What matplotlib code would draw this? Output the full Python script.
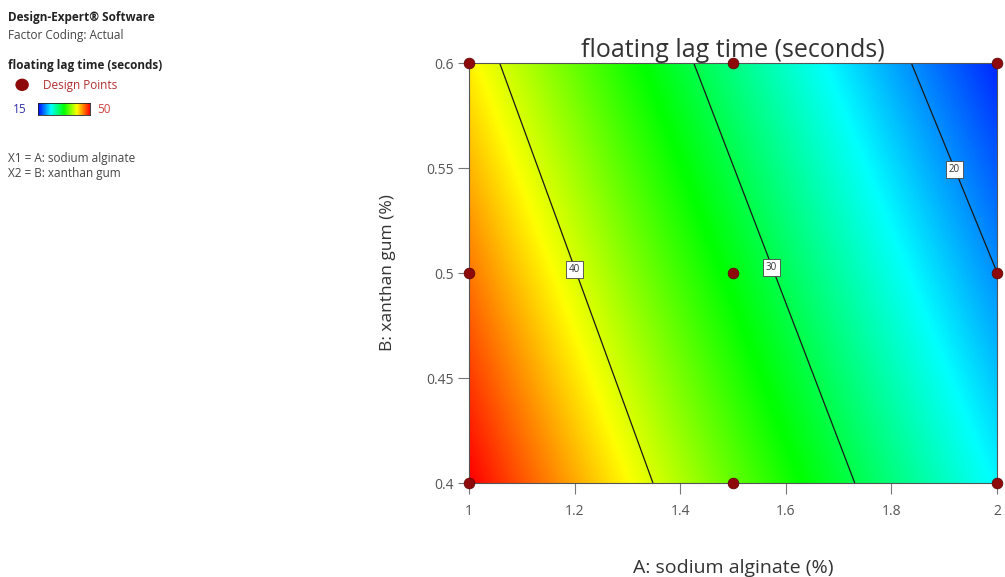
import numpy as np
import matplotlib
matplotlib.use("Agg")
import matplotlib.pyplot as plt
from matplotlib.colors import LinearSegmentedColormap
from matplotlib.patches import Ellipse

plt.rcParams['font.family'] = ['Open Sans', 'DejaVu Sans']

# ---- data -------------------------------------------------------------
title = "floating lag time (seconds)"
x_label = "A: sodium alginate (%)"
y_label = "B: xanthan gum (%)"

# factor ranges (actual units)
A_low, A_high = 1.0, 2.0
B_low, B_high = 0.4, 0.6

# 3x3 design points
design_A = [1.0, 1.5, 2.0, 1.0, 1.5, 2.0, 1.0, 1.5, 2.0]
design_B = [0.6, 0.6, 0.6, 0.5, 0.5, 0.5, 0.4, 0.4, 0.4]

# quadratic model in coded factors: intercept, A, B, AB, A^2, B^2
model_terms = ["Intercept", "A", "B", "AB", "A^2", "B^2"]
model_coefs = [32.0, -12.93, -3.9, 0.3, 0.94, 0.0]

contour_levels = [20, 30, 40]
color_range = [15, 50]

x_ticks = [1, 1.2, 1.4, 1.6, 1.8, 2]
x_tick_labels = ["1", "1.2", "1.4", "1.6", "1.8", "2"]
y_ticks = [0.4, 0.45, 0.5, 0.55, 0.6]
y_tick_labels = ["0.4", "0.45", "0.5", "0.55", "0.6"]

# ---- response surface -------------------------------------------------
def predict(a, b):
    x1 = (a - (A_low + A_high) / 2) / ((A_high - A_low) / 2)
    x2 = (b - (B_low + B_high) / 2) / ((B_high - B_low) / 2)
    c = model_coefs
    return c[0] + c[1] * x1 + c[2] * x2 + c[3] * x1 * x2 + c[4] * x1 ** 2 + c[5] * x2 ** 2

ga = np.linspace(A_low, A_high, 400)
gb = np.linspace(B_low, B_high, 400)
GA, GB = np.meshgrid(ga, gb)
Z = predict(GA, GB)

rainbow = LinearSegmentedColormap.from_list(
    "de_rainbow",
    [(0.00, (0.0, 0.0, 1.0)),
     (0.25, (0.0, 1.0, 1.0)),
     (0.50, (0.0, 1.0, 0.0)),
     (0.75, (1.0, 1.0, 0.0)),
     (1.00, (1.0, 0.0, 0.0))])

# ---- figure -----------------------------------------------------------
fig = plt.figure(figsize=(10.05, 5.77), dpi=100)
ax = fig.add_axes([0.4667, 0.1629, 0.5254, 0.7279])

ax.pcolormesh(GA, GB, Z, cmap=rainbow, vmin=color_range[0], vmax=color_range[1],
              shading="gouraud", rasterized=True)
cs = ax.contour(GA, GB, Z, levels=contour_levels, colors="#1a1a1a", linewidths=0.9)
label_spots = [(1.917, 0.550), (1.589, 0.505), (1.197, 0.502)]
labels = ax.clabel(cs, fmt="%d", manual=label_spots, inline=False, fontsize=7,
                   colors="#333333")
for t in labels:
    t.set_rotation(0)
    t.set_verticalalignment("center_baseline")
    t.set_bbox(dict(boxstyle="square,pad=0.3", fc="white", ec="#444444", lw=0.6))

ax.scatter(design_A, design_B, s=60, color="#8e0a0a", edgecolors="#5a0000",
           linewidths=0.5, zorder=5, clip_on=False)

ax.set_xlim(A_low, A_high)
ax.set_ylim(B_low, B_high)
ax.set_xticks(x_ticks)
ax.set_xticklabels(x_tick_labels)
ax.set_yticks(y_ticks)
ax.set_yticklabels(y_tick_labels)
ax.tick_params(axis="both", direction="out", colors="#777777", labelcolor="#555555",
               labelsize=10, length=8, width=0.8)
ax.tick_params(axis="x", pad=7)
ax.tick_params(axis="y", pad=3)
for s in ax.spines.values():
    s.set_color("#555555")
    s.set_linewidth(0.8)

ax.set_title(title, fontsize=18, color="#333333", pad=3)
ax.set_xlabel(x_label, fontsize=14, color="#333333", labelpad=29)
ax.set_ylabel(y_label, fontsize=12.5, color="#333333", labelpad=22)

# ---- side panel ---------------------------------------------------------
side = dict(fontsize=8.5, va="center")
fig.text(0.008, 0.970, "Design-Expert\u00ae Software", fontweight="bold",
         color="#222222", **side)
fig.text(0.008, 0.939, "Factor Coding: Actual", color="#444444", **side)
fig.text(0.008, 0.887, "floating lag time (seconds)", fontweight="bold",
         color="#222222", **side)
fig.text(0.043, 0.852, "Design Points", color="#b03030", **side)
fig.add_artist(Ellipse((0.022, 0.853), 0.012, 0.019,
                       transform=fig.transFigure, color="#8e0a0a"))
fig.text(0.013, 0.810, f"{color_range[0]}", color="#3333aa", **side)
fig.text(0.0965, 0.810, f"{color_range[1]}", color="#cc4444", **side)
cax = fig.add_axes([0.0378, 0.8007, 0.0517, 0.0208])
cax.imshow(np.linspace(0, 1, 256)[None, :], aspect="auto", cmap=rainbow)
cax.set_xticks([])
cax.set_yticks([])
for s in cax.spines.values():
    s.set_color("#222222")
    s.set_linewidth(0.6)
fig.text(0.008, 0.726, "X1 = A: sodium alginate", color="#444444", **side)
fig.text(0.008, 0.700, "X2 = B: xanthan gum", color="#444444", **side)

fig.savefig("out.png", dpi=100)
